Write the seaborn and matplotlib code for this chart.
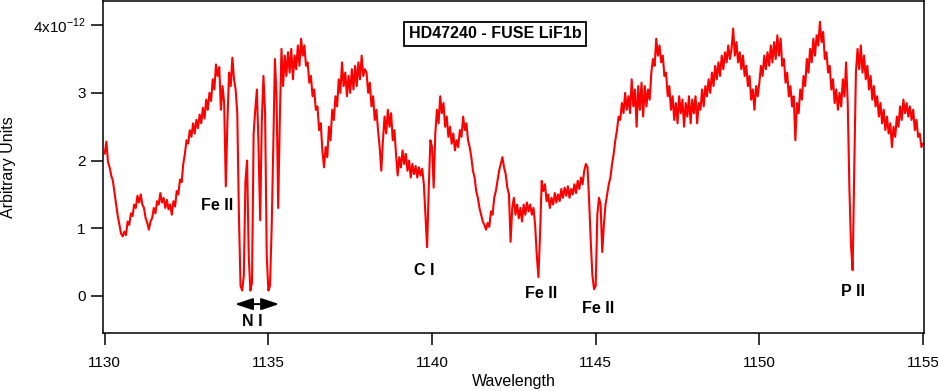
import numpy as np
import pandas as pd
import matplotlib
matplotlib.use("Agg")
import matplotlib.pyplot as plt
import seaborn as sns

# ---- data (flux in units of 1e-12, sampled every 0.05 A from 1130.00) ----
wl_start = 1130.0
wl_step = 0.05
flux = [
    # 1130
    2.10, 2.28, 1.98, 1.90, 1.78, 1.70, 1.52, 1.35, 1.18, 1.05,
    0.92, 0.88, 0.95, 0.90, 1.10, 1.05, 1.22, 1.18, 1.35, 1.30,
    # 1131
    1.48, 1.38, 1.50, 1.35, 1.30, 1.15, 1.08, 0.98, 1.10, 1.15,
    1.30, 1.22, 1.40, 1.35, 1.52, 1.38, 1.45, 1.30, 1.42, 1.28,
    # 1132
    1.35, 1.20, 1.40, 1.32, 1.55, 1.50, 1.72, 1.68, 1.95, 2.10,
    2.30, 2.25, 2.45, 2.35, 2.55, 2.40, 2.60, 2.48, 2.68, 2.55,
    # 1133
    2.78, 2.62, 2.90, 2.75, 3.00, 2.88, 3.20, 3.05, 3.42, 3.25,
    3.38, 2.75, 3.10, 2.85, 1.62, 2.60, 3.30, 3.10, 3.52, 3.20,
    # 1134
    3.05, 2.70, 1.20, 0.15, 0.08, 0.30, 1.70, 2.00, 0.60, 0.08,
    0.20, 2.40, 2.75, 3.05, 2.20, 1.12, 2.60, 3.25, 2.70, 0.60,
    # 1135
    0.08, 0.15, 1.00, 2.20, 3.50, 2.95, 1.30, 2.60, 3.65, 3.10,
    3.55, 3.25, 3.60, 3.30, 3.65, 3.20, 3.55, 3.35, 3.70, 3.40,
    # 1136
    3.80, 3.55, 3.70, 3.40, 3.45, 3.15, 3.25, 2.95, 3.05, 2.75,
    2.80, 2.45, 2.55, 2.15, 1.90, 2.20, 2.05, 2.50, 2.30, 2.75,
    # 1137
    2.60, 2.95, 2.80, 3.20, 3.00, 3.45, 3.10, 3.30, 2.95, 3.25,
    3.00, 3.35, 3.05, 3.40, 3.10, 3.45, 3.20, 3.55, 3.25, 3.35,
    # 1138
    3.30, 3.00, 3.15, 2.80, 2.95, 2.60, 2.75, 2.45, 2.20, 1.85,
    2.30, 2.65, 2.40, 2.75, 2.50, 2.70, 2.30, 2.45, 2.10, 1.78,
    # 1139
    2.05, 1.90, 2.15, 1.95, 2.10, 1.85, 2.00, 1.75, 1.95, 1.80,
    1.92, 1.75, 1.90, 1.78, 1.88, 1.65, 1.20, 0.72, 1.60, 2.30,
    # 1140
    2.20, 1.60, 2.40, 2.75, 2.55, 2.95, 2.70, 2.85, 2.50, 2.65,
    2.35, 2.50, 2.25, 2.40, 2.15, 2.30, 2.20, 2.45, 2.35, 2.65,
    # 1141
    2.45, 2.55, 2.30, 2.20, 2.05, 1.85, 1.75, 1.55, 1.45, 1.30,
    1.20, 1.10, 1.05, 0.98, 1.08, 1.02, 1.25, 1.20, 1.45, 1.55,
    # 1142
    1.70, 1.85, 1.95, 2.05, 1.90, 1.80, 1.60, 1.50, 0.80, 1.30,
    1.45, 1.20, 1.35, 1.15, 1.30, 1.10, 1.35, 1.20, 1.38, 1.25,
    # 1143
    1.35, 1.20, 1.30, 1.05, 0.60, 0.28, 0.90, 1.70, 1.55, 1.65,
    1.40, 1.50, 1.30, 1.45, 1.35, 1.52, 1.38, 1.50, 1.40, 1.58,
    # 1144
    1.45, 1.60, 1.48, 1.62, 1.45, 1.58, 1.50, 1.65, 1.52, 1.70,
    1.58, 1.75, 1.65, 1.85, 1.95, 1.90, 1.40, 0.80, 0.30, 0.10,
    # 1145
    0.15, 1.20, 1.45, 1.35, 0.65, 1.05, 1.35, 1.50, 1.65, 1.75,
    1.95, 2.10, 2.30, 2.45, 2.65, 2.60, 2.85, 2.70, 3.00, 2.75,
    # 1146
    2.95, 2.70, 3.20, 2.80, 3.05, 2.50, 3.10, 2.75, 3.15, 2.65,
    3.10, 2.80, 3.05, 2.90, 3.30, 3.50, 3.40, 3.80, 3.55, 3.70,
    # 1147
    3.45, 3.55, 3.25, 3.30, 2.95, 3.10, 2.75, 2.95, 2.60, 2.85,
    2.55, 2.95, 2.70, 2.90, 2.50, 2.85, 2.65, 2.95, 2.55, 2.90,
    # 1148
    2.70, 2.95, 2.55, 2.85, 2.75, 3.05, 2.80, 3.10, 2.95, 3.20,
    3.00, 3.30, 3.10, 3.40, 3.20, 3.45, 3.25, 3.55, 3.35, 3.60,
    # 1149
    3.45, 3.70, 3.50, 3.65, 3.95, 3.55, 3.75, 3.45, 3.60, 3.35,
    3.55, 3.25, 3.40, 3.10, 3.25, 2.90, 3.05, 2.75, 3.10, 2.95,
    # 1150
    3.15, 3.40, 3.25, 3.55, 3.35, 3.60, 3.40, 3.70, 3.45, 3.75,
    3.50, 3.85, 3.55, 3.80, 3.40, 3.50, 3.15, 3.30, 2.95, 3.10,
    # 1151
    2.80, 2.95, 2.30, 2.85, 2.70, 3.05, 2.90, 3.25, 3.10, 3.50,
    3.30, 3.65, 3.45, 3.80, 3.55, 3.85, 3.70, 4.05, 3.75, 3.90,
    # 1152
    3.50, 3.60, 3.30, 3.40, 3.05, 3.20, 2.85, 3.05, 2.75, 3.00,
    2.80, 3.20, 2.95, 3.45, 2.85, 1.60, 0.75, 0.38, 1.90, 3.30,
    # 1153
    3.65, 3.35, 3.70, 3.30, 3.55, 3.20, 3.40, 3.05, 3.25, 2.90,
    3.10, 2.80, 2.95, 2.65, 2.85, 2.55, 2.75, 2.45, 2.65, 2.40,
    # 1154
    2.55, 2.20, 2.50, 2.35, 2.65, 2.50, 2.80, 2.60, 2.90, 2.70,
    2.85, 2.65, 2.80, 2.60, 2.75, 2.45, 2.60, 2.35, 2.40, 2.20,
    # 1155
    2.25,
]
wavelength = np.round(wl_start + wl_step * np.arange(len(flux)), 2)

x_ticks = [1130, 1135, 1140, 1145, 1150, 1155]
y_ticks = [0, 1, 2, 3, 4]
y_ticklabels = ["0", "1", "2", "3", "4x10$^{\\mathregular{-12}}$"]

line_labels = ["Fe II", "N I", "C I", "Fe II", "Fe II", "P II"]
label_x = [1133.43, 1134.50, 1139.76, 1143.33, 1145.07, 1152.86]
label_y = [1.34, -0.37, 0.37, 0.03, -0.18, 0.06]

title_text = "HD47240 - FUSE LiF1b"

df = pd.DataFrame({"Wavelength": wavelength, "Flux": flux})

# ---- style ----
sns.set_theme(style="white")
plt.rcParams["font.family"] = ["Liberation Sans", "DejaVu Sans"]
plt.rcParams["axes.edgecolor"] = "black"
plt.rcParams["axes.linewidth"] = 1.1

W, H = 938, 391
fig = plt.figure(figsize=(W / 100, H / 100), dpi=100)
ax_w = 924 - 103
ax = fig.add_axes([103 / W, (H - 333) / H, ax_w / W, (333 - 1) / H])

sns.lineplot(data=df, x="Wavelength", y="Flux", ax=ax, color="#ff0000",
             linewidth=1.5, estimator=None, sort=False)

ax.set_xlim(1129.948, 1155.03)
ax.set_ylim(-0.547, 4.357)
ax.set_xticks(x_ticks)
ax.set_xticklabels([str(v) for v in x_ticks])
ax.set_yticks(y_ticks)
ax.set_yticklabels(y_ticklabels)

ax.tick_params(axis="both", which="major", direction="out", length=8.5,
               width=1.1, color="black", labelsize=11, labelcolor="black")
ax.tick_params(axis="x", pad=8, bottom=True, top=False)
ax.tick_params(axis="y", pad=4, left=True, right=False)

for s in ax.spines.values():
    s.set_visible(True)
    s.set_color("black")
    s.set_linewidth(1.1)

ax.set_xlabel("Wavelength", fontsize=11.5, color="black", labelpad=3)
ax.set_ylabel("Arbitrary Units", fontsize=11.5, color="black")
ax.yaxis.set_label_coords((16 - 103) / ax_w, 0.5)

for t, lx, ly in zip(line_labels, label_x, label_y):
    ax.text(lx, ly, t, ha="center", va="center", fontsize=11.5,
            fontweight="bold", color="black")

ax.annotate("", xy=(1133.98, -0.12), xytext=(1135.33, -0.12),
            arrowprops=dict(arrowstyle="<|-|>,head_length=0.6,head_width=0.2",
                            color="black", lw=1.4, mutation_scale=18,
                            shrinkA=0, shrinkB=0))

ax.text(1141.93, 3.87, title_text, ha="center", va="center", fontsize=11.5,
        fontweight="bold", color="black",
        bbox=dict(boxstyle="square,pad=0.3", facecolor="white",
                  edgecolor="black", linewidth=1.3))

fig.savefig("out.png", dpi=100)
